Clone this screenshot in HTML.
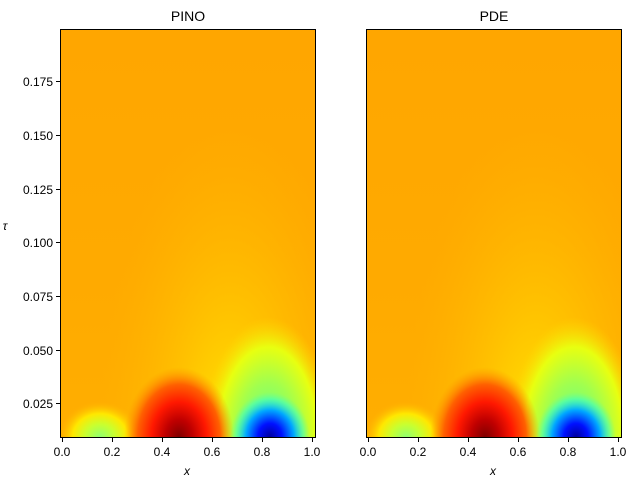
<!DOCTYPE html>
<html><head><style>html,body{margin:0;background:#fff;width:640px;height:480px;overflow:hidden}svg{display:block;font-family:"Liberation Sans","DejaVu Sans",sans-serif}</style></head><body>
<svg width="640" height="480" viewBox="0 0 640 480">
<defs>
<linearGradient id="base" x1="0" y1="0" x2="0" y2="1">
<stop offset="0" stop-color="#ffa600"/><stop offset="0.6" stop-color="#ffaa00"/><stop offset="1" stop-color="#ffae00"/>
</linearGradient>
<radialGradient id="plume" cx="0.5" cy="0.5" r="0.5">
<stop offset="0" stop-color="#ffe600" stop-opacity="1"/><stop offset="0.4" stop-color="#ffcc00" stop-opacity="0.7"/><stop offset="1" stop-color="#ffb400" stop-opacity="0"/>
</radialGradient>
<radialGradient id="yel" cx="0.5" cy="0.5" r="0.5">
<stop offset="0" stop-color="#90ff70"/><stop offset="0.35" stop-color="#c8ff30"/><stop offset="0.65" stop-color="#ffe800"/><stop offset="1" stop-color="#ffb000" stop-opacity="0"/>
</radialGradient>
<radialGradient id="red" cx="0.5" cy="0.5" r="0.5">
<stop offset="0" stop-color="#800000"/><stop offset="0.25" stop-color="#c00000"/><stop offset="0.5" stop-color="#ff1800"/><stop offset="0.75" stop-color="#ff6000"/><stop offset="1" stop-color="#ff9800" stop-opacity="0"/>
</radialGradient>
<radialGradient id="grn" cx="0.5" cy="0.5" r="0.5">
<stop offset="0" stop-color="#50ffa0"/><stop offset="0.45" stop-color="#a0ff50"/><stop offset="0.75" stop-color="#e8ff10"/><stop offset="1" stop-color="#ffd800" stop-opacity="0"/>
</radialGradient>
<radialGradient id="blu" cx="0.5" cy="0.5" r="0.5">
<stop offset="0" stop-color="#0000a0"/><stop offset="0.3" stop-color="#0010ff"/><stop offset="0.6" stop-color="#00a8ff"/><stop offset="0.85" stop-color="#30ffd0" stop-opacity="0.5"/><stop offset="1" stop-color="#60ffa0" stop-opacity="0"/>
</radialGradient>
<clipPath id="c1"><rect x="60" y="29" width="255" height="408"/></clipPath>
<clipPath id="c2"><rect x="366" y="29" width="255" height="408"/></clipPath>
<g id="f">
<rect x="0" y="0" width="255" height="408" fill="url(#base)"/>
<ellipse cx="170" cy="408" rx="130" ry="320" fill="url(#plume)"/>
<ellipse cx="40" cy="408" rx="42" ry="36" fill="url(#yel)"/>
<ellipse cx="208" cy="408" rx="66" ry="120" fill="url(#grn)"/>
<ellipse cx="119" cy="408" rx="55" ry="70" fill="url(#red)"/>
<ellipse cx="210" cy="408" rx="40" ry="45" fill="url(#blu)"/>
</g>
</defs>
<g clip-path="url(#c1)"><g transform="translate(60,29)"><use href="#f"/></g></g>
<g clip-path="url(#c2)"><g transform="translate(366,29)"><use href="#f"/></g></g>
<rect x="60.5" y="29.5" width="255" height="408" fill="none" stroke="#000" stroke-width="1"/>
<rect x="366.5" y="29.5" width="255" height="408" fill="none" stroke="#000" stroke-width="1"/>
<text x="188" y="21" font-size="14" text-anchor="middle">PINO</text>
<text x="494" y="21" font-size="14" text-anchor="middle">PDE</text>
<g font-size="12" text-anchor="middle">
<g stroke="#000"><path d="M62.5 438v4M112.5 438v4M162.5 438v4M212.5 438v4M262.5 438v4M312.5 438v4M368.5 438v4M418.5 438v4M468.5 438v4M518.5 438v4M568.5 438v4M618.5 438v4"/>
<path d="M56 403.5h4M56 350.5h4M56 296.5h4M56 242.5h4M56 189.5h4M56 135.5h4M56 81.5h4"/></g>
<text x="62" y="456">0.0</text><text x="112" y="456">0.2</text><text x="162" y="456">0.4</text><text x="212" y="456">0.6</text><text x="262" y="456">0.8</text><text x="312" y="456">1.0</text>
<text x="368" y="456">0.0</text><text x="418" y="456">0.2</text><text x="468" y="456">0.4</text><text x="518" y="456">0.6</text><text x="568" y="456">0.8</text><text x="618" y="456">1.0</text>
<text x="187" y="475" font-style="italic">x</text><text x="493" y="475" font-style="italic">x</text>
</g>
<g font-size="12" text-anchor="end">
<text x="53" y="408">0.025</text><text x="53" y="355">0.050</text><text x="53" y="301">0.075</text><text x="53" y="247">0.100</text><text x="53" y="194">0.125</text><text x="53" y="140">0.150</text><text x="53" y="86">0.175</text>
</g>
<text x="5" y="230" font-size="12" font-style="italic" text-anchor="middle">τ</text>
</svg>
</body></html>
